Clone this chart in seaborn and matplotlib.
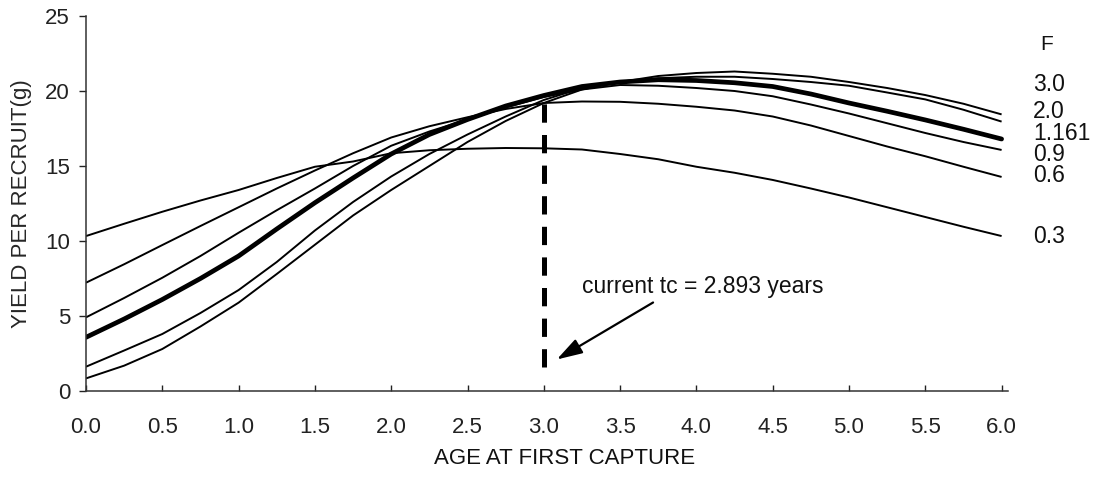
import matplotlib
matplotlib.use("Agg")
import matplotlib.pyplot as plt
import pandas as pd
import seaborn as sns

# Age at first capture (years)
ages = [0.0, 0.25, 0.5, 0.75, 1.0, 1.25, 1.5, 1.75, 2.0, 2.25, 2.5, 2.75, 3.0,
        3.25, 3.5, 3.75, 4.0, 4.25, 4.5, 4.75, 5.0, 5.25, 5.5, 5.75, 6.0]

# Yield per recruit (g) for each fishing mortality F
ypr_f03 = [10.33, 11.15, 11.95, 12.7, 13.4, 14.2, 14.95, 15.3, 15.85, 16.05, 16.15, 16.2, 16.18,
           16.1, 15.8, 15.45, 14.95, 14.55, 14.07, 13.5, 12.9, 12.25, 11.6, 10.95, 10.33]
ypr_f06 = [7.22, 8.45, 9.73, 11.0, 12.25, 13.5, 14.7, 15.85, 16.9, 17.65, 18.25, 18.8, 19.2,
           19.3, 19.28, 19.15, 18.95, 18.7, 18.3, 17.7, 17.0, 16.3, 15.65, 14.95, 14.27]
ypr_f09 = [4.91, 6.2, 7.55, 9.0, 10.55, 12.05, 13.5, 15.0, 16.35, 17.3, 18.1, 18.9, 19.6,
           20.1, 20.4, 20.35, 20.2, 20.0, 19.65, 19.1, 18.5, 17.85, 17.2, 16.6, 16.07]
ypr_f1161 = [3.58, 4.8, 6.1, 7.5, 9.0, 10.8, 12.55, 14.2, 15.8, 17.1, 18.1, 19.0, 19.7,
             20.3, 20.6, 20.75, 20.7, 20.55, 20.3, 19.8, 19.2, 18.65, 18.07, 17.45, 16.8]
ypr_f20 = [1.62, 2.7, 3.8, 5.2, 6.73, 8.6, 10.7, 12.6, 14.3, 15.8, 17.1, 18.3, 19.4,
           20.2, 20.6, 20.85, 20.95, 20.95, 20.8, 20.6, 20.35, 19.9, 19.44, 18.75, 17.96]
ypr_f30 = [0.84, 1.69, 2.8, 4.3, 5.89, 7.8, 9.75, 11.7, 13.4, 15.0, 16.6, 18.0, 19.2,
           20.1, 20.6, 21.0, 21.2, 21.3, 21.15, 20.95, 20.6, 20.2, 19.73, 19.15, 18.44]

f_labels = ["0.3", "0.6", "0.9", "1.161", "2.0", "3.0"]
series = [ypr_f03, ypr_f06, ypr_f09, ypr_f1161, ypr_f20, ypr_f30]
current_f = "1.161"

x_ticks = [0.0, 0.5, 1.0, 1.5, 2.0, 2.5, 3.0, 3.5, 4.0, 4.5, 5.0, 5.5, 6.0]
y_ticks = [0, 5, 10, 15, 20, 25]

current_tc_line = 3.0
current_tc_text = "current tc = 2.893 years"

df = pd.concat(
    [pd.DataFrame({"age": ages, "ypr": vals, "F": lab}) for lab, vals in zip(f_labels, series)],
    ignore_index=True,
)

sns.set_theme(style="ticks")
plt.rcParams["font.family"] = ["Liberation Sans", "DejaVu Sans"]
plt.rcParams["text.color"] = "#111111"

W, H = 1096, 479
fig = plt.figure(figsize=(W / 100, H / 100), dpi=100)
x_lo, x_hi = 0.0, 6.04
px_per_unit = 152.6
left_px, bottom_px, top_px = 86, 391, 16
right_px = left_px + (x_hi - x_lo) * px_per_unit
ax = fig.add_axes([left_px / W, 1 - bottom_px / H,
                   (right_px - left_px) / W, (bottom_px - top_px) / H])

for lab in f_labels:
    sub = df[df["F"] == lab]
    sns.lineplot(data=sub, x="age", y="ypr", ax=ax, color="black",
                 linewidth=3.4 if lab == current_f else 1.4,
                 solid_capstyle="round" if lab == current_f else "butt",
                 legend=False)

# current age at first capture
ax.plot([current_tc_line, current_tc_line], [1.6, 19.3], color="black",
        linewidth=3.6, linestyle=(0, (3.66, 2.46)), dash_capstyle="butt")
ax.annotate("", xy=(3.085, 2.1), xytext=(3.716, 5.9),
            arrowprops=dict(arrowstyle="-|>,head_length=1.3,head_width=0.4",
                            color="black", lw=1.6, shrinkA=0, shrinkB=0))
ax.text(3.25, 7.0, current_tc_text, fontsize=16.5, ha="left", va="center")

# F labels at the right end of the curves
label_y = {"3.0": 20.45, "2.0": 18.6, "1.161": 17.2, "0.9": 15.8, "0.6": 14.35, "0.3": 10.33}
for lab in f_labels:
    ax.text(6.206, label_y[lab], lab, fontsize=16.5, ha="left", va="center", clip_on=False)
ax.text(6.25, 23.1, "F", fontsize=15, ha="left", va="center", clip_on=False)

ax.set_xlim(x_lo, x_hi)
ax.set_ylim(0, 25)
ax.set_xticks(x_ticks)
ax.set_xticklabels([f"{v:.1f}" for v in x_ticks])
ax.set_yticks(y_ticks)
ax.set_yticklabels([str(v) for v in y_ticks])
ax.tick_params(axis="x", direction="in", length=4.5, width=1.0, pad=19, labelsize=16, colors="#222222")
ax.tick_params(axis="y", direction="out", length=5, width=1.0, pad=6.5, labelsize=16, colors="#222222")
sns.despine(ax=ax)
for s in ("left", "bottom"):
    ax.spines[s].set_linewidth(1.1)
    ax.spines[s].set_color("#333333")

ax.set_xlabel("")
ax.set_ylabel("YIELD PER RECRUIT(g)", fontsize=16, labelpad=0)
ax.yaxis.set_label_coords((32 - left_px) / (right_px - left_px), 0.5)
fig.text(565 / W, 1 - 458 / H, "AGE AT FIRST CAPTURE", fontsize=16, ha="center", va="center")

fig.savefig("out.png", dpi=100, facecolor="white")
